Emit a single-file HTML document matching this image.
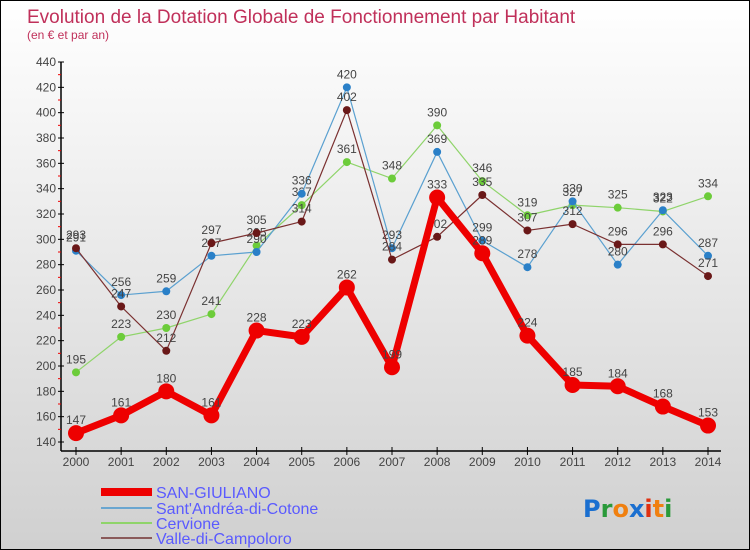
<!DOCTYPE html>
<html><head><meta charset="utf-8"><style>
body{margin:0}
#c{position:relative;width:748px;height:548px;border:1px solid #000;background:linear-gradient(#fff,#d0d0d0);font-family:"Liberation Sans",sans-serif;overflow:hidden}
</style></head><body>
<div id="c">
<svg id="s" width="748" height="548" xmlns="http://www.w3.org/2000/svg" style="position:absolute;left:0;top:0">
<text x="26" y="22" font-size="19" fill="#c0305a">Evolution de la Dotation Globale de Fonctionnement par Habitant</text>
<text x="26" y="38" font-size="12" fill="#c0305a">(en € et par an)</text>
<g id="axes"></g><g id="series"></g>
<g>
<line x1="100" y1="491" x2="151" y2="491" stroke="#e00" stroke-width="8"/>
<text x="155" y="497" font-size="16" fill="#5a5aff">SAN-GIULIANO</text>
<line x1="100" y1="507" x2="151" y2="507" stroke="#6aa6d0" stroke-width="2"/>
<text x="155" y="513" font-size="16" fill="#5a5aff">Sant'Andréa-di-Cotone</text>
<line x1="100" y1="522" x2="151" y2="522" stroke="#8fd46a" stroke-width="2"/>
<text x="155" y="528" font-size="16" fill="#5a5aff">Cervione</text>
<line x1="100" y1="537" x2="151" y2="537" stroke="#8a5a5a" stroke-width="2"/>
<text x="155" y="543" font-size="16" fill="#5a5aff">Valle-di-Campoloro</text>
</g>
<g font-size="24" font-weight="bold" font-family="'DejaVu Sans',sans-serif">
<text x="582" y="516"><tspan fill="#1a6fd0">P</tspan><tspan fill="#2a9a3a">r</tspan><tspan fill="#f08010">o</tspan><tspan fill="#1a6fd0">x</tspan><tspan fill="#e03010">i</tspan><tspan fill="#f08010">t</tspan><tspan fill="#2a9a3a">i</tspan></text>
</g>
</svg>
</div>
<script>
const years=["2000","2001","2002","2003","2004","2005","2006","2007","2008","2009","2010","2011","2012","2013","2014"];
const yTicks=[140,160,180,200,220,240,260,280,300,320,340,360,380,400,420,440];
const sanGiuliano=[147,161,180,161,228,223,262,199,333,289,224,185,184,168,153];
const santAndrea=[291,256,259,287,290,336,420,293,369,299,278,330,280,323,287];
const cervione=[195,223,230,241,295,327,361,348,390,346,319,327,325,322,334];
const valle=[293,247,212,297,305,314,402,284,302,335,307,312,296,296,271];
const NS="http://www.w3.org/2000/svg";
const X=i=>75+i*(632/14);
const Y=v=>441-(v-140)*(380/300);
function mk(tag,attrs,parent){const e=document.createElementNS(NS,tag);for(const k in attrs)e.setAttribute(k,attrs[k]);parent.appendChild(e);return e;}
const ax=document.getElementById('axes');
let yl=mk('line',{x1:60,y1:Y(440),x2:60,y2:450,stroke:'#000','stroke-width':1.5},ax);


let xl=mk('line',{x1:60,y1:450,x2:720,y2:450,stroke:'#000','stroke-width':1.5},ax);


yTicks.forEach(v=>{
 mk('line',{x1:57,y1:Y(v),x2:63,y2:Y(v),stroke:'#000'},ax);
 if(v<440)mk('line',{x1:57,y1:Y(v+10),x2:60,y2:Y(v+10),stroke:'#e00'},ax);
 const t=mk('text',{x:55,y:Y(v)+4,'font-size':12,fill:'#444','text-anchor':'end'},ax);
 t.textContent=v;
 
 
});
years.forEach((y,i)=>{
 mk('line',{x1:X(i),y1:446,x2:X(i),y2:454,stroke:'#000'},ax);
 const t=mk('text',{x:X(i),y:465,'font-size':12,fill:'#444','text-anchor':'middle'},ax);
 t.textContent=y;
 
 
});
const sg=document.getElementById('series');
function series(data,color,dot,w,r,name){
 const g=mk('g',{},sg);
 
 
 const pl=mk('polyline',{points:data.map((v,i)=>X(i)+','+Y(v)).join(' '),fill:'none',stroke:color,'stroke-width':w,'stroke-linejoin':'round'},g);
 
 
 data.forEach((v,i)=>{
  const c=mk('circle',{cx:X(i),cy:Y(v),r:r,fill:dot},g);
  
  
  const t=mk('text',{x:X(i),y:Y(v)-9,'font-size':12,fill:'#444','text-anchor':'middle'},g);
  t.textContent=v;
  
  
 });
}
series(cervione,'#8fd46a','#6ccc3a',1.2,4,'cervione');
series(santAndrea,'#5aa0d0','#2a80c8',1.2,4,'sant-andrea');
series(valle,'#7a3030','#6a1818',1.2,4,'valle');
series(sanGiuliano,'#ee0000','#ee0000',7,8,'san-giuliano');
</script>
</body></html>
